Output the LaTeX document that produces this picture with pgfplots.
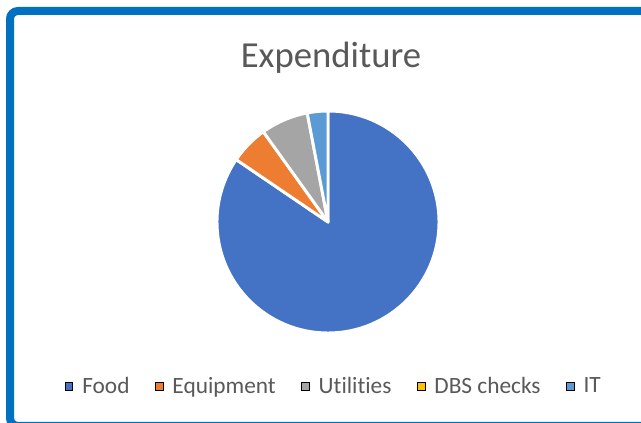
\documentclass[border=0pt]{standalone}
\usepackage{pgfplots}
\pgfplotsset{compat=1.18}
\usepackage{pgfplotstable}
\usepackage{fontspec}
\setmainfont{Carlito}[RawFeature=-liga]
\definecolor{cFood}{HTML}{4472C4}
\definecolor{cEquip}{HTML}{ED7D31}
\definecolor{cUtil}{HTML}{A5A5A5}
\definecolor{cDBS}{HTML}{FFC000}
\definecolor{cIT}{HTML}{5B9BD5}
\definecolor{txtgray}{HTML}{595959}
\definecolor{frameblue}{HTML}{0070C0}

\pgfplotstableread{
label value
Food 84.5
Equipment 5.6
Utilities 6.9
DBS 0.0
IT 3.0
}\pietable

\def\R{83.25}
\begin{document}
\begin{tikzpicture}
\useasboundingbox (0pt,0pt) rectangle (480.75pt,317.25pt);
\fill[white] (0pt,0pt) rectangle (480.75pt,317.25pt);
\begin{scope}
\clip (0pt,0pt) rectangle (480.75pt,317.25pt);
\draw[frameblue, line width=6pt, rounded corners=6pt] (7.5pt,-2.25pt) rectangle (491pt,309pt);
\end{scope}
\node[anchor=base, text=txtgray, font=\fontsize{27.5}{32}\selectfont] at (248.25pt,266.6pt) {Expenditure};

\begin{axis}[
  hide axis,
  x=\R pt, y=\R pt,
  xmin=-1.05, xmax=1.05, ymin=-1.05, ymax=1.05,
  anchor=center, at={(246pt,150.75pt)},
  legend columns=5,
  legend image code/.code={\fill[#1] (0pt,-2.9pt) rectangle (5.8pt,2.9pt);},
  legend style={draw=none, fill=none, at={(0.526,-0.2035)}, anchor=center,
    font=\fontsize{17.5}{20}\selectfont, text=txtgray,
    /tikz/every odd column/.append style={column sep=5pt},
    /tikz/every even column/.append style={column sep=17pt},
    nodes={inner sep=2pt}},
]
\addlegendimage{fill=cFood}\addlegendentry{Food}
\addlegendimage{fill=cEquip}\addlegendentry{Equipment}
\addlegendimage{fill=cUtil}\addlegendentry{Utilities}
\addlegendimage{fill=cDBS}\addlegendentry{DBS checks}
\addlegendimage{fill=cIT}\addlegendentry{IT}
% slices drawn from cumulative values of the table
\pgfplotsextra{
  \pgfplotstablegetrowsof{\pietable}
  \pgfmathtruncatemacro{\nrows}{\pgfplotsretval-1}
  \foreach \i in {0,...,\nrows}{
    \pgfplotstablegetelem{\i}{value}\of\pietable
    \let\v\pgfplotsretval
    \xdef\acc{0}
    \ifnum\i>0
      \pgfmathtruncatemacro{\prev}{\i-1}
      \foreach \j in {0,...,\prev}{
        \pgfplotstablegetelem{\j}{value}\of\pietable
        \pgfmathsetmacro{\tmp}{\acc+\pgfplotsretval}
        \xdef\acc{\tmp}
      }
    \fi
    \pgfmathsetmacro{\sa}{90-3.6*\acc}
    \pgfmathsetmacro{\ea}{90-3.6*(\acc+\v)}
    \ifcase\i \def\col{cFood}\or\def\col{cEquip}\or\def\col{cUtil}\or\def\col{cDBS}\or\def\col{cIT}\fi
    \pgfmathparse{\v>0 ? 1 : 0}
    \ifnum\pgfmathresult=1
      \filldraw[fill=\col, draw=white, line width=2.2pt, line join=round]
        (axis cs:0,0) -- ([shift={(\sa:\R pt)}]axis cs:0,0) arc[start angle=\sa, end angle=\ea, radius=\R pt] -- cycle;
    \fi
  }
}
\end{axis}
\end{tikzpicture}
\end{document}
